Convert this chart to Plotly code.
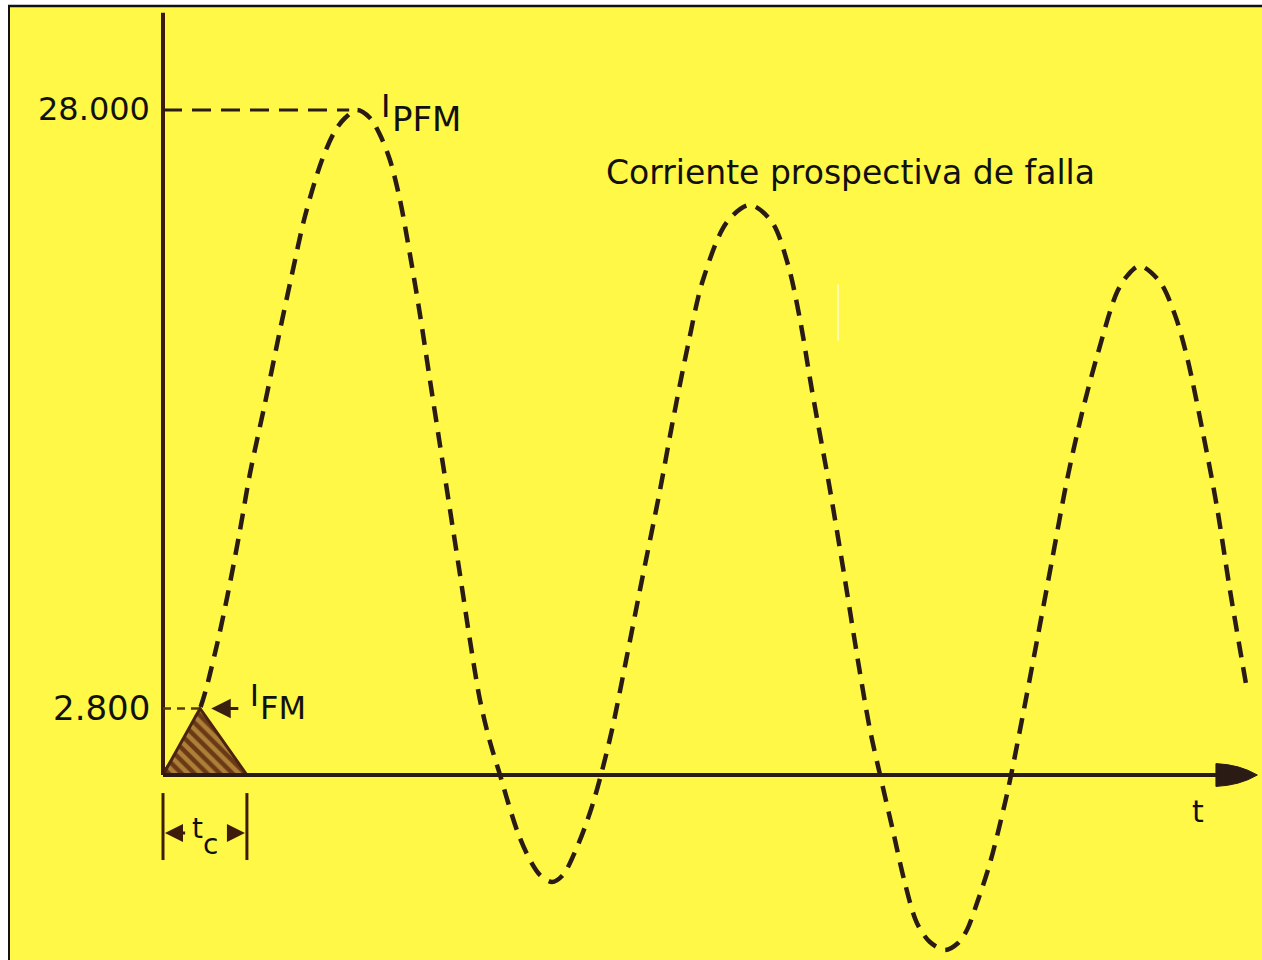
import plotly.graph_objects as go

# Prospective fault current (A) against time (ms)
t_ms = [0, 0.96, 1.88, 2.64, 3.30, 3.91, 4.42, 5.18, 5.94, 6.55, 7.21, 8.07, 8.73, 9.24, 9.85,
        10.51, 11.02, 11.52, 12.03, 12.54, 13.05, 13.55, 14.06, 14.57, 15.08, 15.58, 16.09,
        16.60, 17.11, 17.51, 18.02, 18.63, 19.14, 19.75, 20.30, 20.91, 21.42, 21.83, 22.23,
        22.79, 23.50, 24.21, 25.23, 25.84, 26.65, 27.41, 28.63, 29.80, 30.91, 31.73, 32.34,
        32.94, 33.86, 34.62, 35.28, 35.89, 36.40, 37.01, 37.66, 38.27, 38.93, 39.70, 40.36,
        40.81, 41.32, 41.98, 42.74, 43.05, 43.60, 44.37, 45.13, 45.89, 46.65, 47.46, 48.43,
        48.98, 49.59, 50.61, 51.37, 51.98, 52.79, 53.50, 54.16, 55.03]
i_prosp = [0, 1263, 2800, 5137, 7663, 10316, 12716, 15663, 18737, 21095, 23537, 25895, 27116,
           27663, 28000,
           27663, 26947, 25895, 24211, 21895, 19368, 16632, 13895, 11158, 8421, 5684, 3158,
           1389, 0, -1137, -2442, -3579, -4211, -4505, -4211, -3242, -2189, -1179, 0,
           1895, 4800, 7789, 12000, 14737, 18105, 20842, 23284, 24000, 23284, 21474, 19158,
           16211, 12000, 8211, 4800, 1895, 0, -2189, -4547, -6232, -7032, -7368, -7074,
           -6526, -5389, -3705, -1179, 0, 2316, 5684, 9053, 12421, 15242, 17768, 20337,
           21053, 21432, 20758, 19368, 17600, 14400, 11284, 7789, 3579]

# Limited (let-through) current pulse
t_cut = [0, 1.88, 4.26]
i_cut = [0, 2800, 0]

# Marked current levels
i_pfm = 28000
i_fm = 2800
tick_vals = [2800, 28000]
tick_text = ["2.800", "28.000"]
tick_size = [34, 32]

t_end = 55.55          # end of the time axis (arrow tip)
t_pfm = 9.85           # time of the prospective peak
t_fm = 1.88            # time of the limited peak
t_c = 4.26             # clearing time

YELLOW = "#FFF846"
INK = "#2a1c14"
AXIS = "#3e1c0c"
TXT = "#111111"
FONT = "DejaVu Sans"

fig = go.Figure()

# prospective current, dashed
fig.add_trace(go.Scatter(
    x=t_ms, y=i_prosp, mode="lines",
    line=dict(color=INK, width=4.5, dash="16px,10px", shape="spline", smoothing=0.9),
    hoverinfo="skip", showlegend=False))

# hatched let-through pulse
fig.add_trace(go.Scatter(
    x=t_cut, y=i_cut, mode="lines", fill="toself",
    fillcolor="#6a3a16",
    fillpattern=dict(shape="\\", bgcolor="#6a3a16", fgcolor="#f2c455",
                     size=9, solidity=0.5),
    line=dict(color="#4a2410", width=3),
    hoverinfo="skip", showlegend=False))

W, H = 1262, 960
shapes = [
    # white margin strips and the sheet's black edge
    dict(type="rect", xref="paper", yref="paper", x0=0, x1=8 / W, y0=0, y1=1,
         fillcolor="white", line=dict(width=0), layer="below"),
    dict(type="rect", xref="paper", yref="paper", x0=0, x1=1, y0=1 - 5 / H, y1=1,
         fillcolor="white", line=dict(width=0), layer="below"),
    dict(type="line", xref="paper", yref="paper", x0=9 / W, x1=9 / W, y0=0, y1=1 - 5.5 / H,
         line=dict(color="#111111", width=2)),
    dict(type="line", xref="paper", yref="paper", x0=8 / W, x1=1, y0=1 - 6 / H, y1=1 - 6 / H,
         line=dict(color="#111111", width=2.5)),
    # current axis
    dict(type="line", x0=0, x1=0, y0=0, y1=32100, line=dict(color=AXIS, width=4)),
    # time axis
    dict(type="line", x0=0, x1=t_end - 1.0, y0=0, y1=0, line=dict(color=INK, width=4)),
    # arrow head of time axis
    dict(type="path",
         path=f"M {t_end - 2.1},-480 Q {t_end - 0.9},-440 {t_end},0 "
              f"Q {t_end - 0.9},440 {t_end - 2.1},480 Z",
         fillcolor=INK, line=dict(color=INK, width=1)),
    # guide lines to the marked levels
    dict(type="line", x0=0, x1=t_pfm - 0.4, y0=i_pfm, y1=i_pfm,
         line=dict(color=INK, width=3, dash="19px,10px")),
    dict(type="line", x0=0, x1=t_fm, y0=i_fm, y1=i_fm,
         line=dict(color="#5a3a10", width=2.5, dash="8px,6px")),
    # t_c dimension bars
    dict(type="line", x0=0, x1=0, y0=-760, y1=-3580, line=dict(color=AXIS, width=3)),
    dict(type="line", x0=t_c, x1=t_c, y0=-760, y1=-3580, line=dict(color=AXIS, width=3)),
    # faint scratch on the sheet
    dict(type="line", x0=34.26, x1=34.26, y0=18300, y1=20650,
         line=dict(color="rgba(255,255,255,0.85)", width=1.5)),
]

ann = []
for v, s, fs in zip(tick_vals, tick_text, tick_size):
    ann.append(dict(x=0, y=v, text=s, showarrow=False, xanchor="right",
                    xshift=-11, yshift=1, font=dict(family=FONT, size=fs, color=TXT)))

ann += [
    dict(x=t_pfm, y=i_pfm, text="I", showarrow=False, xanchor="left",
         xshift=22, yshift=4, font=dict(family=FONT, size=32, color=TXT)),
    dict(x=t_pfm, y=i_pfm, text="PFM", showarrow=False, xanchor="left",
         xshift=33, yshift=-9, font=dict(family=FONT, size=34, color=TXT)),
    dict(x=29.8, y=24000, text="Corriente prospectiva de falla", showarrow=False,
         xanchor="center", yshift=33, xshift=100,
         font=dict(family=FONT, size=33, color=TXT)),
    dict(x=t_fm, y=i_fm, text="I", showarrow=False, xanchor="left",
         xshift=48, yshift=13, font=dict(family=FONT, size=30, color=TXT)),
    dict(x=t_fm, y=i_fm, text="FM", showarrow=False, xanchor="left",
         xshift=58, yshift=1, font=dict(family=FONT, size=32, color=TXT)),
    # I_FM pointer
    dict(x=2.45, y=i_fm, ax=3.9, ay=i_fm, axref="x", ayref="y", text="",
         showarrow=True, arrowhead=2, arrowsize=1.3, arrowwidth=3, arrowcolor="#3a2010"),
    # t_c arrows
    dict(x=0.1, y=-2440, ax=1.2, ay=-2440, axref="x", ayref="y", text="",
         showarrow=True, arrowhead=2, arrowsize=1.2, arrowwidth=3, arrowcolor=AXIS),
    dict(x=t_c - 0.1, y=-2440, ax=t_c - 1.0, ay=-2440, axref="x", ayref="y", text="",
         showarrow=True, arrowhead=2, arrowsize=1.2, arrowwidth=3, arrowcolor=AXIS),
    dict(x=t_c / 2, y=-2440, text="t", showarrow=False, xshift=-7, yshift=4,
         font=dict(family=FONT, size=28, color=TXT)),
    dict(x=t_c / 2, y=-2440, text="c", showarrow=False, xshift=6, yshift=-12,
         font=dict(family=FONT, size=28, color=TXT)),
    dict(x=t_end - 3.0, y=0, text="t", showarrow=False, yshift=-36,
         font=dict(family=FONT, size=30, color=TXT)),
]

fig.update_layout(
    width=W, height=H,
    margin=dict(l=0, r=0, t=0, b=0),
    paper_bgcolor=YELLOW, plot_bgcolor="rgba(0,0,0,0)",
    xaxis=dict(range=[-8.274, 55.787], visible=False, fixedrange=True),
    yaxis=dict(range=[-7789, 32632], visible=False, fixedrange=True),
    shapes=shapes, annotations=ann, showlegend=False,
)

fig.write_html(
    "out.html",
    config={"displayModeBar": False},
    post_script="document.body.style.margin='0';document.body.style.overflow='hidden';",
)
